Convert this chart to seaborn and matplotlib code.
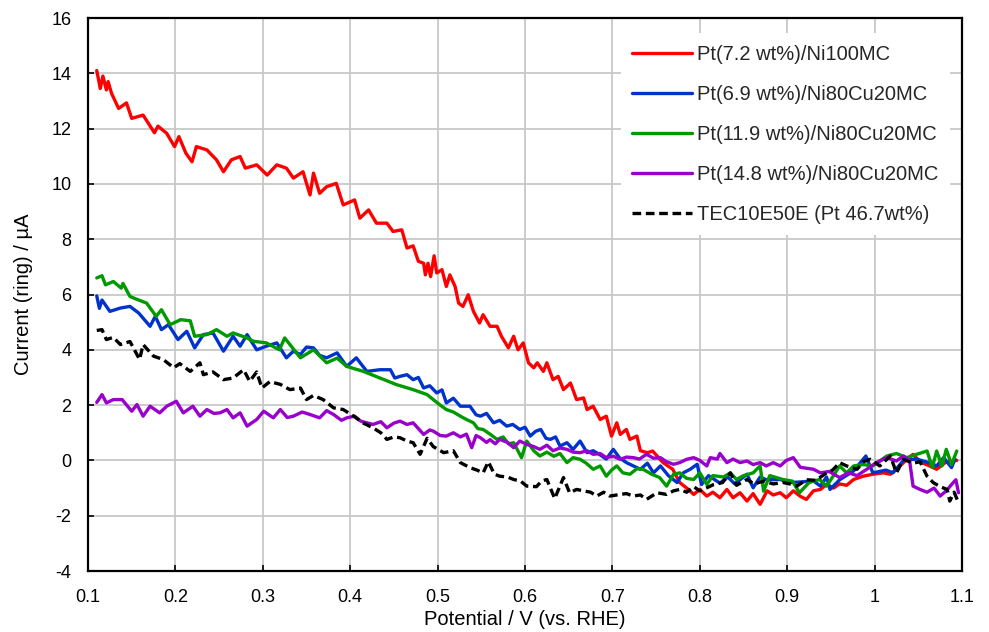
import matplotlib
matplotlib.use("Agg")
import matplotlib.pyplot as plt
import seaborn as sns
import pandas as pd

# ---------------- data ----------------
labels = ["Pt(7.2 wt%)/Ni100MC", "Pt(6.9 wt%)/Ni80Cu20MC", "Pt(11.9 wt%)/Ni80Cu20MC",
          "Pt(14.8 wt%)/Ni80Cu20MC", "TEC10E50E (Pt 46.7wt%)"]
colors = ["#ff0000", "#0033cc", "#009900", "#9900cc", "#000000"]

red_x = [0.110, 0.114, 0.117, 0.121, 0.123, 0.127, 0.135, 0.144, 0.150, 0.163, 0.176, 0.180, 0.190,
         0.199, 0.204, 0.212, 0.219, 0.224, 0.236, 0.247, 0.255, 0.264, 0.274, 0.280, 0.293, 0.305,
         0.316, 0.327, 0.335, 0.346, 0.354, 0.358, 0.365, 0.373, 0.384, 0.392, 0.405, 0.411, 0.421,
         0.430, 0.442, 0.449, 0.459, 0.465, 0.472, 0.478, 0.484, 0.486, 0.489, 0.492, 0.496, 0.499,
         0.505, 0.510, 0.514, 0.520, 0.524, 0.529, 0.535, 0.541, 0.548, 0.552, 0.560, 0.568, 0.573,
         0.581, 0.587, 0.592, 0.598, 0.604, 0.610, 0.614, 0.621, 0.625, 0.632, 0.638, 0.644, 0.652,
         0.659, 0.667, 0.671, 0.678, 0.686, 0.693, 0.699, 0.705, 0.709, 0.716, 0.720, 0.728, 0.732,
         0.740, 0.746, 0.758, 0.769, 0.777, 0.785, 0.793, 0.800, 0.808, 0.815, 0.823, 0.831, 0.838,
         0.846, 0.854, 0.861, 0.869, 0.877, 0.884, 0.892, 0.899, 0.907, 0.915, 0.922, 0.930, 0.938,
         0.945, 0.953, 0.960, 0.968, 0.976, 0.987, 0.998, 1.010, 1.018, 1.025, 1.037, 1.044, 1.052,
         1.063, 1.071, 1.082, 1.094]
red_y = [14.1, 13.45, 13.9, 13.4, 13.7, 13.27, 12.73, 12.93, 12.37, 12.49, 11.85, 12.09, 11.83,
         11.35, 11.71, 11.11, 10.8, 11.35, 11.23, 10.87, 10.44, 10.87, 10.99, 10.57, 10.69, 10.32,
         10.69, 10.57, 10.21, 10.44, 9.6, 10.39, 9.66, 9.9, 10.02, 9.24, 9.42, 8.76, 9.06,
         8.58, 8.58, 8.28, 8.34, 7.68, 7.76, 7.2, 7.13, 6.71, 7.13, 6.65, 7.4, 6.78,
         6.9, 6.29, 6.71, 6.29, 5.69, 5.57, 5.99, 5.39, 4.97, 5.27, 4.85, 4.85, 4.49,
         4.07, 4.49, 4.0, 4.25, 3.53, 3.35, 3.53, 3.22, 3.53, 2.92, 3.04, 2.56, 2.8,
         2.2, 2.26, 1.84, 1.96, 1.48, 1.6, 0.88, 1.36, 0.94, 1.12, 0.76, 0.88, 0.35,
         0.28, 0.34, -0.08, -0.32, -0.80, -1.0, -1.23, -1.05, -1.29, -1.15, -1.35, -1.05, -1.35,
         -1.17, -1.47, -1.2, -1.59, -1.1, -1.25, -1.17, -1.35, -1.1, -1.3, -1.41, -1.1, -1.05,
         -0.87, -1.0, -0.85, -0.9, -0.69, -0.57, -0.5, -0.45, -0.5, -0.32, 0.04, 0.22, -0.05,
         -0.2, -0.32, -0.05, 0.0]

blue_x = [0.110, 0.113, 0.116, 0.125, 0.137, 0.148, 0.158, 0.171, 0.177, 0.184, 0.192, 0.203, 0.213,
          0.222, 0.232, 0.243, 0.255, 0.266, 0.274, 0.282, 0.293, 0.304, 0.316, 0.327, 0.335, 0.343,
          0.350, 0.358, 0.365, 0.373, 0.385, 0.396, 0.407, 0.419, 0.434, 0.446, 0.451, 0.457, 0.465,
          0.472, 0.478, 0.484, 0.491, 0.499, 0.505, 0.510, 0.518, 0.526, 0.537, 0.544, 0.549, 0.556,
          0.564, 0.571, 0.579, 0.586, 0.594, 0.600, 0.606, 0.612, 0.618, 0.624, 0.629, 0.635, 0.640,
          0.648, 0.655, 0.663, 0.671, 0.678, 0.686, 0.693, 0.701, 0.708, 0.716, 0.724, 0.732, 0.740,
          0.747, 0.755, 0.764, 0.774, 0.781, 0.789, 0.797, 0.802, 0.810, 0.823, 0.832, 0.840, 0.854,
          0.861, 0.869, 0.876, 0.892, 0.903, 0.915, 0.930, 0.938, 0.945, 0.949, 0.960, 0.976, 0.990,
          0.998, 1.013, 1.021, 1.033, 1.048, 1.064, 1.071, 1.079, 1.088, 1.092]
blue_y = [5.95, 5.50, 5.80, 5.39, 5.51, 5.57, 5.33, 4.85, 5.21, 4.73, 4.91, 4.37, 4.67,
          4.07, 4.55, 4.61, 3.95, 4.49, 4.13, 4.55, 4.00, 4.13, 4.25, 3.71, 3.95, 3.83,
          4.10, 4.07, 3.80, 3.71, 3.89, 3.40, 3.71, 3.22, 3.28, 3.28, 2.98, 3.04, 3.10,
          2.92, 3.00, 2.62, 2.70, 2.44, 2.55, 2.08, 2.25, 1.96, 1.96, 1.65, 1.60, 1.70,
          1.36, 1.45, 1.24, 1.30, 1.12, 1.20, 0.88, 1.05, 1.12, 0.80, 0.76, 0.85, 0.52,
          0.64, 0.40, 0.70, 0.28, 0.35, 0.20, 0.05, 0.40, 0.10, -0.08, -0.20, -0.32, -0.10,
          -0.45, -0.20, -0.55, -0.80, -0.45, -0.32, -0.14, -0.87, -0.55, -0.82, -0.60, -0.85, -0.50,
          -0.99, -0.60, -0.70, -0.69, -0.80, -0.78, -0.74, -0.93, -0.60, -1.05, -0.70, -0.38, 0.16,
          -0.45, -0.35, -0.45, 0.0, 0.05, -0.10, -0.20, 0.10, -0.26, 0.05]

green_x = [0.110, 0.116, 0.120, 0.129, 0.138, 0.140, 0.148, 0.154, 0.167, 0.178, 0.184, 0.194, 0.206,
           0.217, 0.222, 0.236, 0.247, 0.259, 0.266, 0.282, 0.289, 0.304, 0.319, 0.325, 0.343, 0.358,
           0.373, 0.385, 0.396, 0.415, 0.434, 0.453, 0.472, 0.488, 0.495, 0.503, 0.510, 0.518, 0.526,
           0.533, 0.541, 0.546, 0.552, 0.560, 0.568, 0.575, 0.581, 0.587, 0.596, 0.602, 0.610, 0.617,
           0.625, 0.633, 0.640, 0.648, 0.655, 0.663, 0.670, 0.678, 0.686, 0.693, 0.699, 0.705, 0.712,
           0.720, 0.728, 0.735, 0.745, 0.754, 0.762, 0.770, 0.777, 0.785, 0.793, 0.800, 0.808, 0.815,
           0.827, 0.835, 0.842, 0.850, 0.861, 0.869, 0.873, 0.880, 0.895, 0.906, 0.914, 0.925, 0.937,
           0.945, 0.953, 0.960, 0.968, 0.976, 0.987, 0.998, 1.014, 1.025, 1.037, 1.048, 1.060, 1.066,
           1.071, 1.077, 1.082, 1.088, 1.094]
green_y = [6.60, 6.68, 6.35, 6.47, 6.23, 6.40, 5.93, 5.85, 5.69, 5.21, 5.45, 4.91, 5.09,
           5.05, 4.49, 4.55, 4.73, 4.49, 4.61, 4.43, 4.31, 4.25, 4.00, 4.43, 3.71, 4.00,
           3.53, 3.70, 3.40, 3.22, 2.98, 2.74, 2.56, 2.38, 2.20, 2.00, 1.84, 1.75, 1.60,
           1.48, 1.36, 1.15, 1.12, 0.95, 0.76, 0.85, 0.60, 0.64, 0.10, 0.70, 0.35, 0.16,
           0.30, 0.15, 0.25, -0.08, 0.10, 0.04, -0.10, -0.32, -0.20, -0.57, -0.35, -0.20, -0.45,
           -0.50, -0.30, -0.32, -0.50, -0.62, -0.93, -0.50, -0.45, -0.65, -0.69, -0.45, -0.87, -0.55,
           -0.60, -0.45, -0.69, -0.55, -0.45, -0.20, -1.11, -0.55, -0.69, -0.75, -1.17, -0.80, -0.69,
           -0.93, -0.55, -0.20, -0.45, -0.20, -0.15, -0.20, 0.16, 0.25, 0.10, 0.22, 0.34, -0.25,
           0.34, -0.20, 0.40, -0.15, 0.34]

purple_x = [0.110, 0.116, 0.121, 0.129, 0.139, 0.150, 0.156, 0.163, 0.171, 0.182, 0.190, 0.201, 0.209,
            0.220, 0.228, 0.236, 0.244, 0.251, 0.259, 0.266, 0.274, 0.282, 0.293, 0.301, 0.312, 0.320,
            0.328, 0.335, 0.345, 0.354, 0.365, 0.373, 0.381, 0.390, 0.396, 0.405, 0.412, 0.426, 0.435,
            0.442, 0.450, 0.457, 0.465, 0.472, 0.484, 0.491, 0.495, 0.503, 0.510, 0.518, 0.526, 0.533,
            0.539, 0.544, 0.549, 0.556, 0.560, 0.566, 0.571, 0.580, 0.587, 0.594, 0.602, 0.610, 0.617,
            0.625, 0.632, 0.640, 0.648, 0.655, 0.663, 0.671, 0.678, 0.686, 0.693, 0.701, 0.709, 0.716,
            0.724, 0.731, 0.739, 0.747, 0.755, 0.762, 0.770, 0.777, 0.785, 0.793, 0.800, 0.808, 0.812,
            0.820, 0.823, 0.831, 0.838, 0.846, 0.854, 0.861, 0.869, 0.876, 0.884, 0.892, 0.899, 0.907,
            0.915, 0.930, 0.938, 0.948, 0.960, 0.970, 0.980, 0.991, 1.002, 1.014, 1.025, 1.033, 1.040,
            1.044, 1.052, 1.060, 1.068, 1.075, 1.082, 1.090, 1.093, 1.096]
purple_y = [2.10, 2.38, 2.08, 2.20, 2.20, 1.78, 2.02, 1.60, 1.96, 1.72, 1.96, 2.14, 1.72,
            1.96, 1.60, 1.84, 1.70, 1.72, 1.84, 1.54, 1.72, 1.24, 1.48, 1.78, 1.54, 1.84,
            1.55, 1.60, 1.75, 1.66, 1.54, 1.80, 1.66, 1.45, 1.54, 1.60, 1.42, 1.30, 1.40,
            1.18, 1.35, 1.42, 1.30, 1.36, 0.94, 1.10, 1.06, 0.90, 0.88, 1.00, 0.85, 0.95,
            0.46, 0.90, 0.82, 0.65, 0.75, 0.60, 0.76, 0.65, 0.46, 0.70, 0.58, 0.50, 0.40,
            0.55, 0.35, 0.45, 0.40, 0.30, 0.28, 0.35, 0.22, 0.25, 0.10, 0.15, 0.04, 0.12,
            0.10, 0.05, 0.22, 0.08, 0.10, -0.05, -0.14, -0.08, 0.04, 0.10, 0.00, -0.20, 0.10,
            0.05, 0.25, -0.08, 0.05, -0.08, -0.02, -0.15, -0.08, -0.20, -0.08, -0.20, 0.00, 0.10,
            -0.25, -0.32, -0.45, -0.40, -0.62, -0.45, -0.55, -0.32, -0.08, 0.10, -0.02, 0.16, 0.00,
            -0.93, -1.05, -1.15, -1.00, -1.29, -1.10, -0.80, -0.70, -1.17]

black_x = [0.110, 0.116, 0.121, 0.129, 0.137, 0.148, 0.159, 0.163, 0.175, 0.186, 0.198, 0.205, 0.217,
           0.228, 0.232, 0.243, 0.255, 0.266, 0.278, 0.285, 0.293, 0.299, 0.308, 0.320, 0.331, 0.343,
           0.350, 0.358, 0.369, 0.381, 0.392, 0.404, 0.415, 0.426, 0.435, 0.442, 0.450, 0.457, 0.465,
           0.472, 0.480, 0.488, 0.495, 0.507, 0.518, 0.526, 0.537, 0.545, 0.552, 0.558, 0.565, 0.571,
           0.580, 0.587, 0.595, 0.602, 0.613, 0.619, 0.625, 0.634, 0.644, 0.651, 0.659, 0.667, 0.675,
           0.682, 0.690, 0.697, 0.709, 0.716, 0.724, 0.732, 0.739, 0.751, 0.762, 0.770, 0.777, 0.785,
           0.793, 0.800, 0.808, 0.816, 0.826, 0.835, 0.842, 0.854, 0.862, 0.873, 0.884, 0.895, 0.903,
           0.911, 0.922, 0.933, 0.945, 0.952, 0.960, 0.968, 0.980, 0.987, 0.995, 1.006, 1.018, 1.025,
           1.033, 1.044, 1.052, 1.060, 1.067, 1.075, 1.083, 1.086, 1.091, 1.096]
black_y = [4.70, 4.73, 4.37, 4.45, 4.19, 4.30, 3.65, 4.19, 3.77, 3.65, 3.35, 3.50, 3.22,
           3.53, 3.10, 3.20, 2.92, 2.98, 3.28, 2.86, 3.20, 2.62, 2.85, 2.75, 2.56, 2.62,
           2.20, 2.35, 2.20, 1.90, 1.84, 1.60, 1.35, 1.18, 1.00, 0.76, 0.85, 0.82, 0.70,
           0.64, 0.22, 0.80, 0.50, 0.28, 0.35, -0.08, -0.26, -0.35, -0.45, -0.05, -0.50, -0.57,
           -0.60, -0.69, -0.75, -0.93, -0.95, -0.75, -0.69, -1.38, -0.62, -1.17, -1.05, -1.10, -1.15,
           -1.29, -1.15, -1.29, -1.23, -1.20, -1.29, -1.25, -1.41, -1.17, -1.23, -1.10, -1.05, -1.15,
           -0.95, -1.10, -0.99, -0.87, -0.80, -0.45, -0.90, -0.69, -0.85, -0.75, -0.85, -0.80, -0.85,
           -0.93, -0.70, -0.72, -0.45, -0.35, -0.08, -0.20, -0.32, -0.05, 0.04, -0.20, 0.16, -0.45,
           0.04, -0.10, -0.05, -0.57, -0.80, -0.95, -1.05, -1.47, -1.15, -1.53]

x_ticks = [0.1, 0.2, 0.3, 0.4, 0.5, 0.6, 0.7, 0.8, 0.9, 1.0, 1.1]
x_tick_labels = ["0.1", "0.2", "0.3", "0.4", "0.5", "0.6", "0.7", "0.8", "0.9", "1", "1.1"]
y_ticks = [-4, -2, 0, 2, 4, 6, 8, 10, 12, 14, 16]

series_x = [red_x, blue_x, green_x, purple_x, black_x]
series_y = [red_y, blue_y, green_y, purple_y, black_y]

frames = []
for lab, xs, ys in zip(labels, series_x, series_y):
    frames.append(pd.DataFrame({"Potential": xs, "Current": ys, "Sample": lab}))
df = pd.concat(frames, ignore_index=True)

# ---------------- plot ----------------
sns.set_theme(style="white")
plt.rcParams["font.family"] = ["Liberation Sans", "DejaVu Sans"]
plt.rcParams["axes.unicode_minus"] = False

fig = plt.figure(figsize=(9.89, 6.32), dpi=100)
ax = fig.add_axes([0.089, 0.0965, 0.8837, 0.875])

sns.lineplot(data=df, x="Potential", y="Current", hue="Sample", style="Sample",
             hue_order=labels, style_order=labels, palette=colors,
             dashes=["", "", "", "", (2.6, 1.4)], estimator=None, sort=False,
             linewidth=2.4, ax=ax)

ax.set_xlim(0.1, 1.1)
ax.set_ylim(-4, 16)
ax.set_xticks(x_ticks)
ax.set_xticklabels(x_tick_labels)
ax.set_yticks(y_ticks)
ax.grid(True, color="#c8c8c8", linewidth=1.3)
ax.set_axisbelow(True)
for sp in ax.spines.values():
    sp.set_color("black")
    sp.set_linewidth(1.6)
ax.tick_params(direction="in", length=4, width=1.2, colors="black", labelsize=13,
               bottom=True, left=True)
ax.tick_params(axis="y", pad=12)
ax.tick_params(axis="x", pad=13)
ax.set_xlabel("Potential / V (vs. RHE)", fontsize=14.5, color="black", labelpad=3)
ax.set_ylabel("Current (ring) / µA", fontsize=14.5, color="black", labelpad=13)

# legend: white background, no border
leg = ax.legend(loc="upper right", bbox_to_anchor=(0.986, 0.972), fontsize=14.5,
                frameon=True, fancybox=False, borderaxespad=0.0, handlelength=3.0,
                handletextpad=0.25, labelspacing=1.05, borderpad=0.55)
leg.get_frame().set_edgecolor("none")
leg.get_frame().set_linewidth(0)
leg.get_frame().set_facecolor("white")
leg.get_frame().set_alpha(1.0)
for line in leg.get_lines():
    line.set_linewidth(2.4)

fig.savefig("out.png", dpi=100)
